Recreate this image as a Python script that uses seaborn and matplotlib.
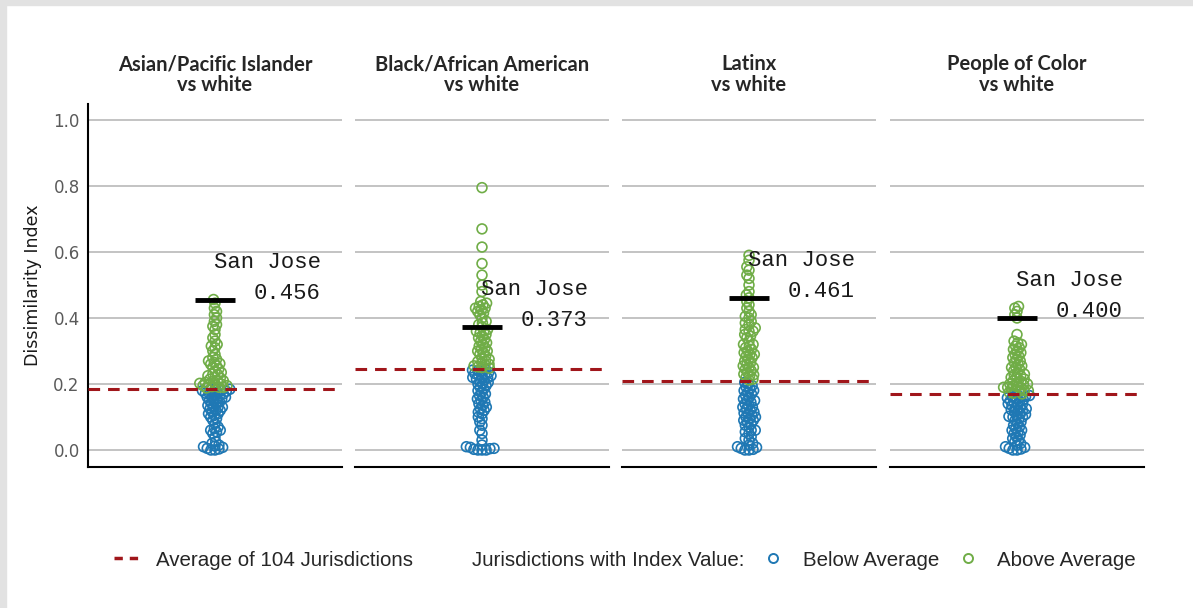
import numpy as np
import pandas as pd
import matplotlib.pyplot as plt
import seaborn as sns
from matplotlib.lines import Line2D
from matplotlib.patches import Rectangle

# panel titles and summary values
titles = ["Asian/Pacific Islander\nvs white", "Black/African American\nvs white",
          "Latinx\nvs white", "People of Color\nvs white"]
averages = [0.186, 0.245, 0.209, 0.170]
san_jose = [0.456, 0.373, 0.461, 0.400]
yticks = [0.0, 0.2, 0.4, 0.6, 0.8, 1.0]

# dissimilarity index of the 104 jurisdictions
asian_pi = [0.000, 0.000, 0.003, 0.005, 0.008, 0.010, 0.012, 0.015, 0.020, 0.025,
            0.040, 0.050, 0.055, 0.060, 0.060, 0.065, 0.070, 0.080, 0.090, 0.095,
            0.100, 0.105, 0.110, 0.110, 0.115, 0.120, 0.120, 0.125, 0.130, 0.130,
            0.130, 0.135, 0.140, 0.140, 0.145, 0.150, 0.150, 0.155, 0.155, 0.160,
            0.160, 0.160, 0.165, 0.165, 0.170, 0.170, 0.172, 0.175, 0.175, 0.178,
            0.180, 0.180, 0.182, 0.184, 0.185, 0.188, 0.190, 0.190, 0.192, 0.195,
            0.195, 0.198, 0.200, 0.200, 0.202, 0.205, 0.208, 0.210, 0.210, 0.215,
            0.218, 0.220, 0.225, 0.228, 0.230, 0.235, 0.240, 0.245, 0.250, 0.255,
            0.260, 0.262, 0.265, 0.270, 0.275, 0.280, 0.290, 0.300, 0.310, 0.315,
            0.320, 0.330, 0.340, 0.350, 0.365, 0.375, 0.380, 0.390, 0.400, 0.410,
            0.420, 0.430, 0.445, 0.456]
black = [0.000, 0.000, 0.000, 0.002, 0.004, 0.005, 0.008, 0.010, 0.015, 0.030,
         0.050, 0.060, 0.075, 0.085, 0.095, 0.100, 0.110, 0.115, 0.120, 0.125,
         0.130, 0.135, 0.140, 0.145, 0.150, 0.155, 0.160, 0.165, 0.170, 0.175,
         0.180, 0.185, 0.190, 0.195, 0.200, 0.200, 0.205, 0.210, 0.212, 0.215,
         0.218, 0.220, 0.222, 0.225, 0.228, 0.230, 0.232, 0.235, 0.238, 0.240,
         0.242, 0.244, 0.248, 0.250, 0.252, 0.255, 0.258, 0.260, 0.265, 0.268,
         0.270, 0.275, 0.280, 0.285, 0.290, 0.295, 0.300, 0.305, 0.310, 0.315,
         0.320, 0.325, 0.330, 0.335, 0.340, 0.345, 0.350, 0.355, 0.360, 0.365,
         0.373, 0.380, 0.385, 0.390, 0.400, 0.410, 0.415, 0.420, 0.425, 0.430,
         0.435, 0.440, 0.445, 0.450, 0.480, 0.500, 0.530, 0.565, 0.615, 0.670,
         0.795, 0.430, 0.360, 0.300]
latinx = [0.000, 0.000, 0.002, 0.005, 0.008, 0.010, 0.015, 0.020, 0.030, 0.035,
          0.040, 0.050, 0.055, 0.060, 0.070, 0.075, 0.080, 0.085, 0.090, 0.095,
          0.100, 0.100, 0.105, 0.110, 0.112, 0.115, 0.120, 0.125, 0.130, 0.135,
          0.140, 0.145, 0.150, 0.155, 0.160, 0.165, 0.170, 0.175, 0.180, 0.185,
          0.190, 0.195, 0.200, 0.205, 0.212, 0.215, 0.220, 0.225, 0.228, 0.230,
          0.235, 0.240, 0.245, 0.250, 0.255, 0.260, 0.265, 0.270, 0.275, 0.280,
          0.285, 0.290, 0.295, 0.300, 0.305, 0.310, 0.315, 0.320, 0.330, 0.340,
          0.345, 0.350, 0.360, 0.365, 0.370, 0.380, 0.385, 0.390, 0.400, 0.405,
          0.410, 0.420, 0.430, 0.440, 0.450, 0.461, 0.470, 0.480, 0.500, 0.520,
          0.530, 0.545, 0.555, 0.575, 0.590, 0.060, 0.090, 0.130, 0.150, 0.180,
          0.250, 0.290, 0.320, 0.360]
poc = [0.000, 0.000, 0.003, 0.005, 0.008, 0.010, 0.015, 0.020, 0.025, 0.030,
       0.035, 0.040, 0.045, 0.050, 0.055, 0.060, 0.065, 0.070, 0.075, 0.080,
       0.085, 0.090, 0.095, 0.100, 0.102, 0.105, 0.108, 0.110, 0.115, 0.120,
       0.122, 0.125, 0.128, 0.130, 0.135, 0.138, 0.140, 0.145, 0.148, 0.150,
       0.152, 0.155, 0.158, 0.160, 0.162, 0.165, 0.168, 0.172, 0.175, 0.178,
       0.180, 0.182, 0.185, 0.188, 0.190, 0.192, 0.195, 0.198, 0.200, 0.205,
       0.208, 0.210, 0.215, 0.220, 0.225, 0.228, 0.230, 0.235, 0.240, 0.245,
       0.250, 0.255, 0.260, 0.265, 0.270, 0.275, 0.280, 0.285, 0.290, 0.295,
       0.300, 0.305, 0.310, 0.315, 0.320, 0.325, 0.330, 0.350, 0.400, 0.410,
       0.420, 0.430, 0.435, 0.200, 0.160, 0.120, 0.060, 0.250, 0.180, 0.140,
       0.100, 0.220, 0.170, 0.190]

panels = [asian_pi, black, latinx, poc]

BLUE = "#1f78b4"
GREEN = "#70ad47"
RED = "#a0161b"
palette = {"Below Average": BLUE, "Above Average": GREEN}

sns.set_theme(style="white")
plt.rcParams["font.family"] = ["DejaVu Sans"]

W, H = 1193, 608
fig = plt.figure(figsize=(W / 100, H / 100), dpi=100)
# light grey frame on the left and top edge
fig.patches.append(Rectangle((0, 0), 6 / W, 1, transform=fig.transFigure,
                             color="#e2e2e2", zorder=0))
fig.patches.append(Rectangle((0, 1 - 5 / H), 1, 5 / H, transform=fig.transFigure,
                             color="#e2e2e2", zorder=0))

lefts = [88, 355, 622, 890]
for i, vals in enumerate(panels):
    ax = fig.add_axes([lefts[i] / W, 141.5 / H, 254 / W, 363 / H])
    ax.set_xlim(-0.5, 0.5)
    ax.set_ylim(-0.05, 1.05)

    df = pd.DataFrame({"value": vals})
    df["group"] = np.where(df["value"] < averages[i], "Below Average", "Above Average")

    # small swarm to get a compact, overlapping column of points
    sns.swarmplot(data=df, y="value", hue="group", palette=palette,
                  hue_order=["Below Average", "Above Average"],
                  size=2.8, ax=ax, legend=False)
    for coll in ax.collections:
        if "draw" in vars(coll):
            del coll.draw
        fc = coll.get_facecolors()
        coll.set_edgecolors(fc)
        coll.set_facecolors("none")
        coll.set_sizes([50])
        coll.set_linewidth(1.2)

    ax.set_xlim(-0.5, 0.5)
    ax.set_ylim(-0.05, 1.05)

    ax.axhline(averages[i], color=RED, lw=2.2, dashes=(3.8, 2.6), zorder=4)
    ax.hlines(san_jose[i], -0.079, 0.079, color="black", lw=3.5, zorder=5)
    ax.annotate("San Jose", xy=(0, san_jose[i]), xytext=(76, 27),
                textcoords="offset points", ha="right", va="center",
                family="Liberation Mono", fontsize=16, color="#1a1a1a")
    ax.annotate(f"{san_jose[i]:.3f}", xy=(0, san_jose[i]), xytext=(76, 4.5),
                textcoords="offset points", ha="right", va="center",
                family="Liberation Mono", fontsize=16, color="#1a1a1a")

    ax.set_yticks(yticks)
    ax.yaxis.grid(True, color="#b3b3b3", lw=1.1)
    ax.set_axisbelow(True)
    ax.set_xticks([])
    ax.set_xlabel("")
    ax.tick_params(axis="y", length=0, pad=6, labelsize=12, labelcolor="#5a5a5a")
    if i == 0:
        ax.set_yticklabels([f"{t:.1f}" for t in yticks])
        ax.set_ylabel("Dissimilarity Index", fontsize=12.5, color="#1a1a1a", labelpad=8)
    else:
        ax.set_yticklabels([])
        ax.set_ylabel("")

    for s in ["top", "right"]:
        ax.spines[s].set_visible(False)
    ax.spines["left"].set_visible(i == 0)
    ax.spines["left"].set_color("black")
    ax.spines["left"].set_linewidth(1.5)
    ax.spines["bottom"].set_color("black")
    ax.spines["bottom"].set_linewidth(1.5)

    ax.set_title(titles[i], family="Lato", fontweight="bold", fontsize=14.5,
                 color="#262626", pad=9, linespacing=1.05)

handles = [
    Line2D([], [], color=RED, lw=2.5, dashes=(2.4, 2)),
    Line2D([], [], lw=0),
    Line2D([], [], ls="none", marker="o", mfc="none", mec=BLUE, ms=6.5, mew=1.4),
    Line2D([], [], ls="none", marker="o", mfc="none", mec=GREEN, ms=6.5, mew=1.4),
]
labels = ["Average of 104 Jurisdictions", "Jurisdictions with Index Value:",
          "Below Average", "Above Average"]
fig.legend(handles, labels, loc="center", bbox_to_anchor=(625 / W, 1 - 560 / H),
           ncol=4, frameon=False, handlelength=1.2, handletextpad=0.85,
           columnspacing=0.8, prop={"family": "Liberation Sans", "size": 14.8})

fig.savefig("out.png", dpi=100)
